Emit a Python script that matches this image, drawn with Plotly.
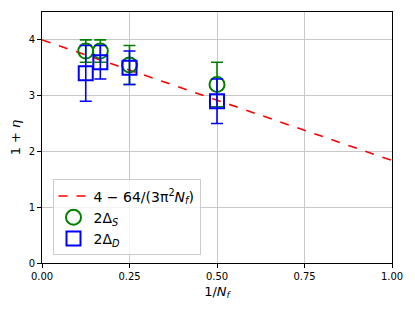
import numpy as np
import plotly.graph_objects as go

x_pts = [1/8, 1/6, 1/4, 1/2]
s_vals = [3.8, 3.8, 3.55, 3.2]
s_err = [0.2, 0.2, 0.35, 0.4]
d_vals = [3.4, 3.6, 3.5, 2.9]
d_err = [0.5, 0.3, 0.3, 0.4]
line_x = [0.0, 1.0]
x_ticks = [0, 0.25, 0.5, 0.75, 1.0]
x_tick_labels = ["0.00", "0.25", "0.50", "0.75", "1.00"]
y_ticks = [0, 1, 2, 3, 4]

coef = 64 / (3 * np.pi**2)
line_y = [4 - coef * v for v in line_x]

fig = go.Figure()
fig.add_trace(go.Scatter(
    x=line_x, y=line_y, mode="lines",
    line=dict(color="red", dash="dash", width=1.6),
    name="4 − 64/(3π<sup>2</sup><i>N<sub>f</sub></i>)"))
fig.add_trace(go.Scatter(
    x=x_pts, y=s_vals, mode="markers",
    marker=dict(symbol="circle-open", size=15, color="green", line=dict(width=2)),
    error_y=dict(type="data", array=s_err, color="green", thickness=1.6, width=6),
    name="2Δ<sub><i>S</i></sub>"))
fig.add_trace(go.Scatter(
    x=x_pts, y=d_vals, mode="markers",
    marker=dict(symbol="square-open", size=14, color="blue", line=dict(width=2)),
    error_y=dict(type="data", array=d_err, color="blue", thickness=1.6, width=6),
    name="2Δ<sub><i>D</i></sub>"))

axis_common = dict(showgrid=True, gridcolor="#c8c8c8", gridwidth=1,
                   showline=True, linecolor="black", linewidth=1, mirror=True,
                   ticks="outside", ticklen=4, tickcolor="black", automargin=False,
                   zeroline=False, tickfont=dict(size=10, color="black"))

fig.update_xaxes(range=[0, 1], tickvals=x_ticks, ticktext=x_tick_labels,
                 title=dict(text="1/<i>N<sub>f</sub></i>", font=dict(size=13, color="black"), standoff=5),
                 **axis_common)
fig.update_yaxes(range=[0, 4.5], tickvals=y_ticks,
                 title=dict(text="1 + <i>η</i>", font=dict(size=13, color="black"), standoff=6),
                 **axis_common)

fig.update_layout(
    width=407, height=303,
    margin=dict(l=34, r=23, t=4, b=48),
    paper_bgcolor="white", plot_bgcolor="white",
    font=dict(family="DejaVu Sans", color="black"),
    legend=dict(x=0.03, y=0.03, xanchor="left", yanchor="bottom",
                bgcolor="rgba(255,255,255,0.8)", bordercolor="#cccccc", borderwidth=1,
                font=dict(size=14), tracegroupgap=4),
)

fig.write_html("out.html")
